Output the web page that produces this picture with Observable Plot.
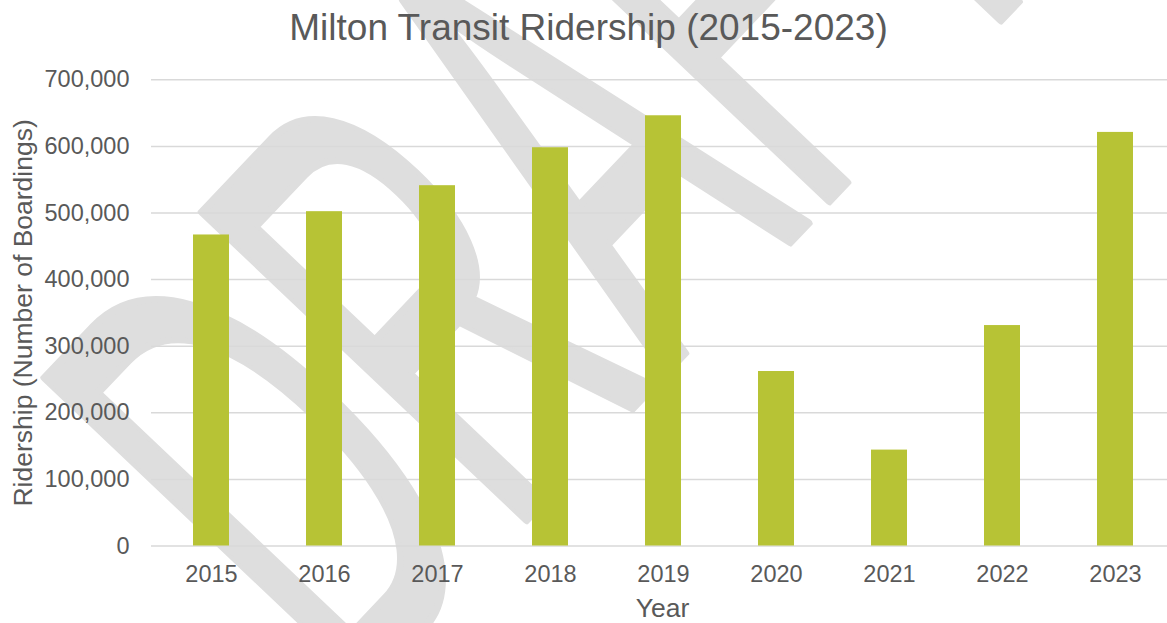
<!DOCTYPE html>
<html>
<head>
<meta charset="utf-8">
<script src="https://cdn.jsdelivr.net/npm/d3@7"></script>
<script src="https://cdn.jsdelivr.net/npm/@observablehq/plot@0.6"></script>
<style>
  html, body { margin: 0; padding: 0; background: #ffffff; overflow: hidden; }
  #chart { width: 1167px; height: 623px; }
</style>
</head>
<body>
<div id="chart"></div>
<script>
// ---- data ----
const years = ["2015", "2016", "2017", "2018", "2019", "2020", "2021", "2022", "2023"];
const ridership = [467000, 502000, 541000, 598000, 646000, 262000, 144000, 331000, 621000];
const yTicks = [0, 100000, 200000, 300000, 400000, 500000, 600000, 700000];
const titleText = "Milton Transit Ridership (2015-2023)";
const yLabelText = "Ridership (Number of Boardings)";
const xLabelText = "Year";
const watermarkText = "DRAFT";

const rows = years.map((y, i) => ({year: y, value: ridership[i]}));

const font = "'Liberation Sans', Arial, sans-serif";
const textColor = "#595959";

// watermark drawn behind everything
const watermark = () => {
  const g = d3.create("svg:g");
  g.append("text")
    .attr("transform", "translate(350,706) rotate(-46.5) scale(0.487,1)")
    .attr("text-anchor", "start")
    .attr("font-family", font)
    .attr("font-size", 650)
    .attr("fill", "#dedede")
    .attr("stroke", "#dedede")
    .attr("stroke-width", 8)
    .attr("stroke-linejoin", "round")
    .text(watermarkText);
  return g.node();
};

const chart = Plot.plot({
  width: 1167,
  height: 623,
  marginLeft: 151,
  marginRight: 0,
  marginTop: 79.3,
  marginBottom: 77.5,
  style: {fontFamily: font, background: "#ffffff", overflow: "hidden"},
  x: {domain: years, range: [151.2, 1174.5], paddingInner: 0.683, paddingOuter: 0.3415},
  y: {domain: [0, 700000], nice: false},
  marks: [
    watermark,
    Plot.gridY(yTicks, {stroke: "#d9d9d9", strokeOpacity: 1, strokeWidth: 1.5}),
    Plot.barY(rows, {x: "year", y: "value", fill: "#b7c335"}),
    Plot.axisY(yTicks, {
      tickSize: 0, tickPadding: 22, tickFormat: d3.format(","),
      fontSize: 23.5, fill: textColor, label: null
    }),
    Plot.axisX({
      tickSize: 0, tickPadding: 19, fontSize: 23.5, fill: textColor, label: null
    }),
    Plot.text([titleText], {
      frameAnchor: "top-left", dx: 437, dy: -51.6, text: d => d,
      fontSize: 37, fill: textColor, textAnchor: "middle", lineAnchor: "middle"
    }),
    Plot.text([yLabelText], {
      frameAnchor: "left", dx: -127.5, rotate: -90, text: d => d,
      fontSize: 26.5, fill: textColor, textAnchor: "middle", lineAnchor: "middle"
    }),
    Plot.text([xLabelText], {
      frameAnchor: "bottom-left", dx: 511, dy: 62.8, text: d => d,
      fontSize: 26.5, fill: textColor, textAnchor: "middle", lineAnchor: "middle"
    })
  ]
});

document.getElementById("chart").appendChild(chart);
</script>
</body>
</html>
